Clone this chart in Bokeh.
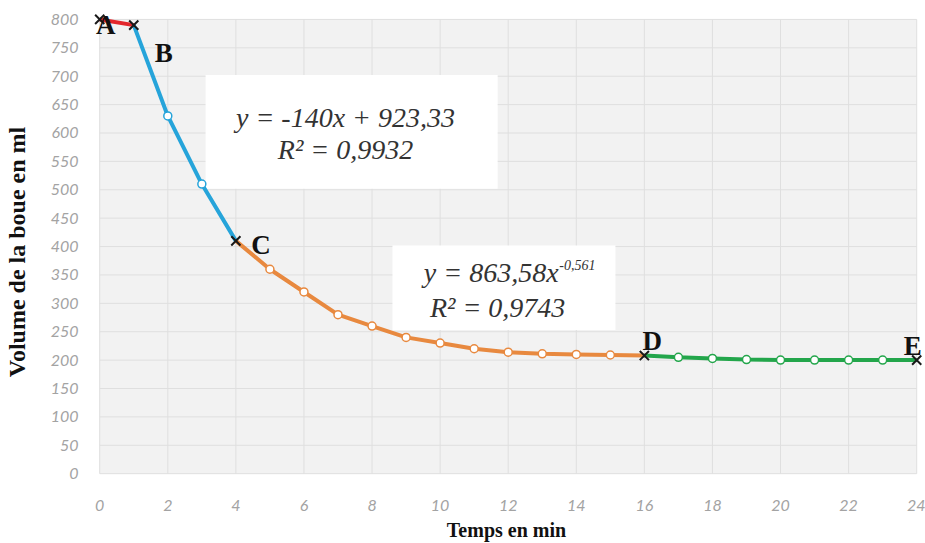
from bokeh.plotting import figure
from bokeh.models import Range1d, FixedTicker, LinearAxis, ColumnDataSource
from bokeh.embed import file_html
from bokeh.resources import INLINE
from bokeh.core.properties import value

# ---- data ----
time_min = list(range(0, 25))
volume_ml = [800, 790, 630, 510, 410, 360, 320, 280, 260, 240, 230, 220, 214,
             211, 210, 209, 208, 205, 203, 201, 200, 200, 200, 200, 200]

phase_start = [0, 1, 4, 16]
phase_end = [1, 4, 16, 24]
phase_colors = ["#e2262c", "#26a4da", "#e8893f", "#23a64b"]

point_names = ["A", "B", "C", "D", "E"]
point_index = [0, 1, 4, 16, 24]

x_ticks = list(range(0, 25, 2))
y_ticks = list(range(0, 801, 50))

eq1_lines = ["y = -140x + 923,33", "R² = 0,9932"]
eq2_main = "y = 863,58x"
eq2_exp = "-0,561"
eq2_r2 = "R² = 0,9743"

# ---- figure ----
p = figure(width=925, height=543, output_backend="svg", toolbar_location=None,
           x_range=Range1d(-0.3, 24.2), y_range=Range1d(-31.4, 812.2),
           min_border_left=89, min_border_right=2, min_border_top=12,
           min_border_bottom=47)
p.outline_line_color = None
p.background_fill_color = "white"
p.xgrid.visible = False
p.ygrid.visible = False

# plot-area background and grid
p.quad(left=[x_ticks[0]], right=[x_ticks[-1]], bottom=[y_ticks[0]], top=[y_ticks[-1]],
       fill_color="#f2f2f2", line_color=None)
p.segment(x0=x_ticks, y0=[y_ticks[0]] * len(x_ticks), x1=x_ticks,
          y1=[y_ticks[-1]] * len(x_ticks), line_color="#dfdfdf", line_width=1)
p.segment(x0=[x_ticks[0]] * len(y_ticks), y0=y_ticks, x1=[x_ticks[-1]] * len(y_ticks),
          y1=y_ticks, line_color="#dfdfdf", line_width=1)

# equation boxes
p.quad(left=[3.11, 8.6], right=[11.69, 15.15], bottom=[502, 253], top=[702, 402],
       fill_color="white", line_color=None)

# phase lines and circle markers
for s, e, c in zip(phase_start, phase_end, phase_colors):
    xs = time_min[s:e + 1]
    ys = volume_ml[s:e + 1]
    p.line(xs, ys, line_color=c, line_width=4)
    if e - s > 1:
        p.scatter(xs[1:-1], ys[1:-1], marker="circle", size=8, fill_color="white",
                  line_color=c, line_width=1.5)

# X markers at phase limits
px = [time_min[i] for i in point_index]
py = [volume_ml[i] for i in point_index]
p.scatter(px, py, marker="x", size=13, line_color="#1a1a1a", line_width=2)

lab_src = ColumnDataSource(dict(x=px, y=py, t=point_names,
                                xo=[6, 30, 25, 8, -4], yo=[6, 28, 4, -15, -14]))
p.text(x="x", y="y", text="t", source=lab_src, x_offset="xo", y_offset="yo",
       text_font=value("Liberation Serif"), text_font_style="bold",
       text_font_size="27px", text_color="#111111",
       text_align="center", text_baseline="middle")

# equations
eq_font = value("Liberation Serif")
p.text(x=[7.22, 7.22], y=[627, 571], text=eq1_lines, text_font=eq_font,
       text_font_style="italic", text_font_size="28px", text_color="#333333",
       text_align="center", text_baseline="middle")
p.text(x=[13.48], y=[354], text=[eq2_main], text_font=eq_font,
       text_font_style="italic", text_font_size="28px", text_color="#333333",
       text_align="right", text_baseline="middle")
p.text(x=[13.5], y=[368], text=[eq2_exp], text_font=eq_font,
       text_font_style="italic", text_font_size="14px", text_color="#333333",
       text_align="left", text_baseline="middle")
p.text(x=[11.69], y=[293], text=[eq2_r2], text_font=eq_font,
       text_font_style="italic", text_font_size="28px", text_color="#333333",
       text_align="center", text_baseline="middle")

# axes
for ax in (p.xaxis[0], p.yaxis[0]):
    ax.axis_line_color = None
    ax.major_tick_line_color = None
    ax.minor_tick_line_color = None
    ax.major_label_text_font = "Lato"
    ax.major_label_text_font_style = "italic"
    ax.major_label_text_font_size = "16px"
    ax.major_label_text_color = "#a3a3a3"

p.xaxis.ticker = FixedTicker(ticks=x_ticks)
p.yaxis.ticker = FixedTicker(ticks=y_ticks)
p.xaxis.major_label_standoff = 2
p.yaxis.major_label_standoff = 5

p.xaxis.axis_label = "Temps en min"
p.xaxis.axis_label_text_font = "Liberation Serif"
p.xaxis.axis_label_text_font_style = "bold"
p.xaxis.axis_label_text_font_size = "20px"
p.xaxis.axis_label_text_color = "#111111"
p.xaxis.axis_label_standoff = 5

# y title on a separate tick-less axis
ytitle = LinearAxis(ticker=FixedTicker(ticks=[]),
                    axis_label="Volume de la boue en ml",
                    axis_label_text_font="Liberation Serif",
                    axis_label_text_font_style="bold",
                    axis_label_text_font_size="24px",
                    axis_label_text_color="#111111",
                    axis_label_standoff=18,
                    axis_line_color=None, major_tick_line_color=None,
                    minor_tick_line_color=None, major_label_text_font_size="0px")
p.add_layout(ytitle, "left")

open("out.html", "w").write(file_html(p, INLINE))
